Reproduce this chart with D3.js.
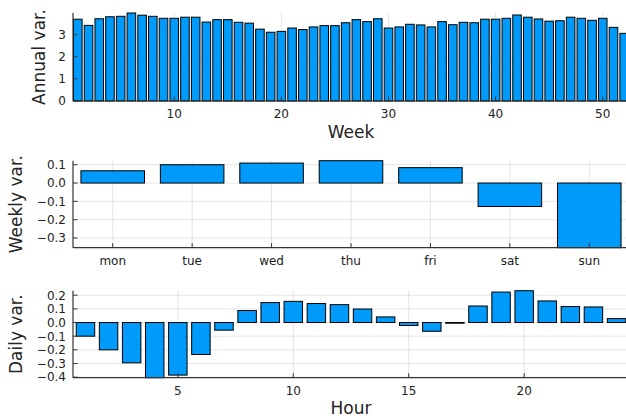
<!DOCTYPE html>
<html>
<head>
<meta charset="utf-8">
<script src="https://cdn.jsdelivr.net/npm/d3@7"></script>
<style>
  html, body { margin: 0; padding: 0; background: #fff; }
  svg { display: block; font-family: "DejaVu Sans", sans-serif; }
</style>
</head>
<body>
<svg id="chart" width="626" height="418"></svg>
<script>
// ---- Data ----
const weeks = d3.range(1, 53);
const annualValues = [3.70, 3.42, 3.72, 3.81, 3.83, 3.98, 3.88, 3.83, 3.74, 3.74,
  3.79, 3.79, 3.57, 3.68, 3.68, 3.56, 3.52, 3.25, 3.11, 3.15,
  3.30, 3.23, 3.35, 3.41, 3.41, 3.54, 3.68, 3.59, 3.72, 3.30,
  3.35, 3.47, 3.44, 3.35, 3.59, 3.45, 3.56, 3.54, 3.70, 3.70,
  3.74, 3.89, 3.79, 3.71, 3.61, 3.63, 3.79, 3.74, 3.65, 3.74,
  3.33, 3.06];
const weekTicks = [10, 20, 30, 40, 50];
const annualTicks = [0, 1, 2, 3];

const days = ["mon", "tue", "wed", "thu", "fri", "sat", "sun"];
const weeklyValues = [0.067, 0.100, 0.109, 0.122, 0.084, -0.128, -0.353];
const weeklyTicks = [0.1, 0.0, -0.1, -0.2, -0.3];

const hours = d3.range(1, 25);
const dailyValues = [-0.100, -0.200, -0.295, -0.404, -0.385, -0.234, -0.056, 0.088,
  0.146, 0.155, 0.139, 0.131, 0.099, 0.041, -0.022, -0.064,
  -0.005, 0.121, 0.223, 0.233, 0.158, 0.117, 0.114, 0.029];
const hourTicks = [5, 10, 15, 20];
const dailyTicks = [0.2, 0.1, 0.0, -0.1, -0.2, -0.3, -0.4];

// ---- Layout ----
const svg = d3.select("#chart");
const L = 73, R = 629;
const barColor = "#009AFA";
const fmt1 = v => (v < 0 ? "\u2212" : "") + Math.abs(v).toFixed(1);
const fmt0 = v => String(v);

function panel(opts) {
  const g = svg.append("g");
  const { x, y, top, bottom, xTicks, xTickFmt, yTicks, yTickFmt, data, bw } = opts;

  // grid
  g.append("g").selectAll("line.gx").data(xTicks).join("line")
    .attr("x1", d => x(d)).attr("x2", d => x(d))
    .attr("y1", top).attr("y2", bottom)
    .attr("stroke", "#000").attr("stroke-opacity", 0.1).attr("stroke-width", 1);
  g.append("g").selectAll("line.gy").data(yTicks).join("line")
    .attr("x1", L).attr("x2", R)
    .attr("y1", d => y(d)).attr("y2", d => y(d))
    .attr("stroke", "#000").attr("stroke-opacity", 0.1).attr("stroke-width", 1);

  // bars
  g.append("g").selectAll("rect").data(data).join("rect")
    .attr("x", d => x(d.k - bw / 2))
    .attr("width", d => x(d.k + bw / 2) - x(d.k - bw / 2))
    .attr("y", d => y(Math.max(0, d.v)))
    .attr("height", d => Math.max(0.5, Math.abs(y(d.v) - y(0))))
    .attr("fill", barColor)
    .attr("stroke", "#000").attr("stroke-width", 1);

  // axes lines
  g.append("line").attr("x1", L).attr("x2", R).attr("y1", bottom).attr("y2", bottom)
    .attr("stroke", "#333").attr("stroke-width", 1.2);
  g.append("line").attr("x1", L).attr("x2", L).attr("y1", top).attr("y2", bottom)
    .attr("stroke", "#333").attr("stroke-width", 1.2);

  // tick marks (inward)
  g.append("g").selectAll("line").data(xTicks).join("line")
    .attr("x1", d => x(d)).attr("x2", d => x(d))
    .attr("y1", bottom).attr("y2", bottom - 4.5)
    .attr("stroke", "#333").attr("stroke-width", 1);
  g.append("g").selectAll("line").data(yTicks).join("line")
    .attr("x1", L).attr("x2", L + 4.5)
    .attr("y1", d => y(d)).attr("y2", d => y(d))
    .attr("stroke", "#333").attr("stroke-width", 1);

  // tick labels
  g.append("g").selectAll("text").data(xTicks).join("text")
    .attr("x", d => x(d)).attr("y", opts.xTickY)
    .attr("text-anchor", "middle").attr("font-size", 12).attr("fill", "#222")
    .text(xTickFmt);
  g.append("g").selectAll("text").data(yTicks).join("text")
    .attr("x", L - 7).attr("y", d => y(d)).attr("dy", "0.36em")
    .attr("text-anchor", "end").attr("font-size", 12).attr("fill", "#222")
    .text(yTickFmt);

  // y label
  svg.append("text")
    .attr("transform", `translate(${opts.yLabX},${(top + bottom) / 2}) rotate(-90)`)
    .attr("text-anchor", "middle").attr("font-size", 17).attr("fill", "#222")
    .text(opts.yLabel);
  if (opts.xLabel) {
    svg.append("text").attr("x", (L + R) / 2).attr("y", opts.xLabY)
      .attr("text-anchor", "middle").attr("font-size", 17).attr("fill", "#222")
      .text(opts.xLabel);
  }
}

// Panel 1: annual
{
  const top = 13, bottom = 101;
  const x = d3.scaleLinear().domain([0.55, 52.45]).range([L, R]);
  const y = d3.scaleLinear().domain([0, d3.max(annualValues)]).range([bottom, top]);
  panel({
    x, y, top, bottom, bw: 0.8,
    xTicks: weekTicks, xTickFmt: fmt0, yTicks: annualTicks, yTickFmt: fmt0,
    data: weeks.map((k, i) => ({ k, v: annualValues[i] })),
    xTickY: 117.5, yLabel: "Annual var.", yLabX: 45, xLabel: "Week", xLabY: 138
  });
}

// Panel 2: weekly
{
  const top = 160.7, bottom = 247.7;
  const x = d3.scaleLinear().domain([0, 7]).range([L, R]);
  const y = d3.scaleLinear().domain([d3.min(weeklyValues), d3.max(weeklyValues)]).range([bottom, top]);
  const pos = days.map((d, i) => i + 0.5);
  panel({
    x, y, top, bottom, bw: 0.8,
    xTicks: pos, xTickFmt: (d, i) => days[i], yTicks: weeklyTicks, yTickFmt: fmt1,
    data: days.map((d, i) => ({ k: i + 0.5, v: weeklyValues[i] })),
    xTickY: 265, yLabel: "Weekly var.", yLabX: 22
  });
}

// Panel 3: daily
{
  const top = 290.7, bottom = 377.7;
  const x = d3.scaleLinear().domain([0.46, 24.54]).range([L, R]);
  const y = d3.scaleLinear().domain([d3.min(dailyValues), d3.max(dailyValues)]).range([bottom, top]);
  panel({
    x, y, top, bottom, bw: 0.8,
    xTicks: hourTicks, xTickFmt: fmt0, yTicks: dailyTicks, yTickFmt: fmt1,
    data: hours.map((k, i) => ({ k, v: dailyValues[i] })),
    xTickY: 395, yLabel: "Daily var.", yLabX: 22, xLabel: "Hour", xLabY: 413.5
  });
}
</script>
</body>
</html>
